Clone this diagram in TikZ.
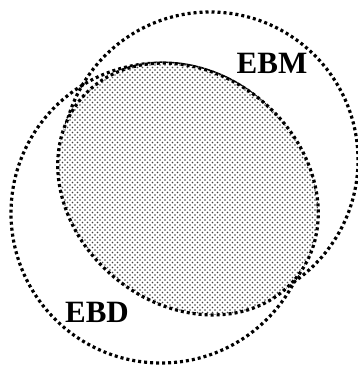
\documentclass[tikz,border=0pt]{standalone}
\usepackage{fontspec}
\setmainfont{Liberation Serif}
\usepackage{tikz}
\usetikzlibrary{shapes.geometric, patterns.meta}
\pgfdeclarepattern{
  name=stipple, type=uncolored,
  bottom left={\pgfpoint{-1pt}{-1pt}},
  top right={\pgfpoint{4pt}{4pt}},
  tile size={\pgfpoint{5pt}{5pt}},
  code={
    \pgfpathcircle{\pgfpointorigin}{0.8pt}
    \pgfpathcircle{\pgfpoint{2.5pt}{2.5pt}}{0.8pt}
    \pgfusepath{fill}
  }
}

\begin{document}
\begin{tikzpicture}[x=1pt, y=-1pt,
    setline/.style={draw=black, line width=3.2pt, dash pattern=on 3pt off 3pt},
    setcirc/.style={setline, circle, inner sep=0pt},
    setlabel/.style={font=\bfseries\fontsize{31}{31}\selectfont, inner sep=0pt}]
  \useasboundingbox (0,0) rectangle (358,370);
  % the two outer sets
  \node[setcirc, minimum size=300pt] (ebd) at (161,213) {};
  \node[setcirc, minimum size=296pt] (ebm) at (210,160) {};
  % the shaded overlap
  \node[setline, ellipse, minimum width=280pt, minimum height=230pt,
        rotate=-40, inner sep=0pt,
        preaction={fill=white}, pattern={stipple}, pattern color=black!75]
        (core) at (188,189) {};
  \node[setlabel] (ebmlab) at (272,63) {EBM};
  \node[setlabel] (ebdlab) at (97,312) {EBD};
\end{tikzpicture}
\end{document}
